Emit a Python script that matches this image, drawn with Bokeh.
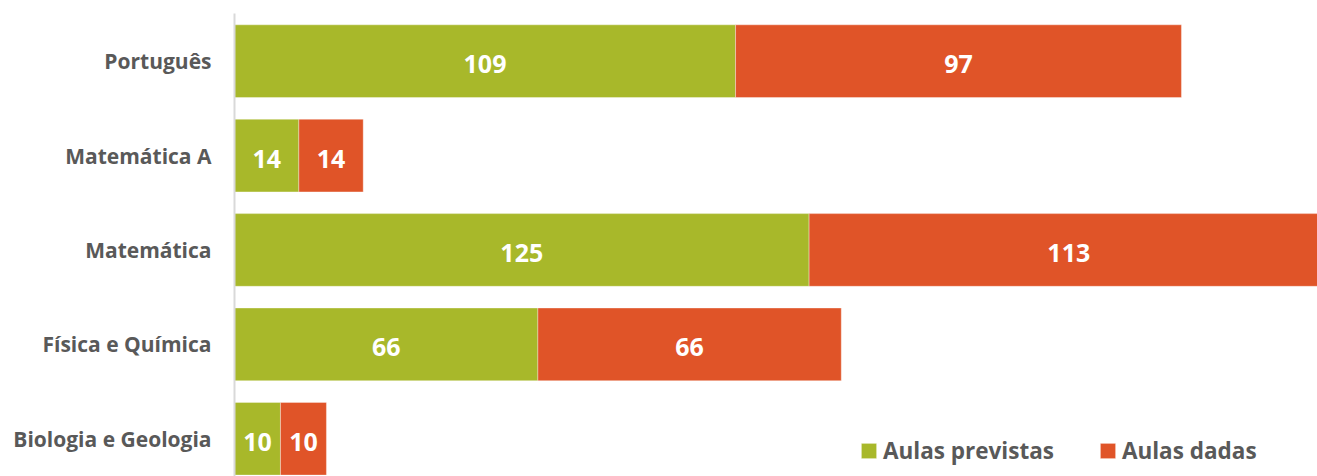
from bokeh.plotting import figure
from bokeh.models import ColumnDataSource, Range1d, Legend, LegendItem, LabelSet
from bokeh.core.properties import value
from bokeh.embed import file_html
from bokeh.resources import INLINE

categories = ["Português", "Matemática A", "Matemática", "Física e Química", "Biologia e Geologia"]
aulas_previstas = [109, 14, 125, 66, 10]
aulas_dadas = [97, 14, 113, 66, 10]
series_names = ["Aulas previstas", "Aulas dadas"]

GREEN = "#A8B82A"
RED = "#E05428"
GRAY = "#595959"
FONT = "Open Sans"

n = len(categories)
ypos = [n - 1 - i for i in range(n)]
prev_end = aulas_previstas
dadas_end = [a + b for a, b in zip(aulas_previstas, aulas_dadas)]

src = ColumnDataSource(dict(
    y=ypos,
    prev=aulas_previstas,
    dadas=aulas_dadas,
    prev_end=prev_end,
    dadas_end=dadas_end,
    prev_mid=[v / 2 for v in aulas_previstas],
    dadas_mid=[a + b / 2 for a, b in zip(aulas_previstas, aulas_dadas)],
    prev_lbl=[str(v) for v in aulas_previstas],
    dadas_lbl=[str(v) for v in aulas_dadas],
))

p = figure(width=1317, height=476, output_backend="svg", toolbar_location=None,
           x_range=Range1d(0, 235.6), y_range=Range1d(-0.40, n - 1 + 0.505),
           min_border_left=234, min_border_right=0, min_border_top=13, min_border_bottom=0)
p.outline_line_color = None
p.grid.visible = False
p.xaxis.visible = False
p.background_fill_color = "white"
p.border_fill_color = "white"

h = 0.77
r1 = p.hbar(y="y", left=0, right="prev_end", height=h, source=src,
            fill_color=GREEN, line_color="white", line_alpha=0.35, line_width=1)
r2 = p.hbar(y="y", left="prev_end", right="dadas_end", height=h, source=src,
            fill_color=RED, line_color="white", line_alpha=0.35, line_width=1)

for xcol, tcol in (("prev_mid", "prev_lbl"), ("dadas_mid", "dadas_lbl")):
    p.add_layout(LabelSet(x=xcol, y="y", text=tcol, source=src,
                          text_align="center", text_baseline="middle",
                          text_color="white", text_font=value(FONT), text_font_style="bold",
                          text_font_size="25px", y_offset=-3))

yax = p.yaxis[0]
yax.ticker = ypos
yax.major_label_overrides = {y: c for y, c in zip(ypos, categories)}
yax.major_tick_line_color = None
yax.minor_tick_line_color = None
yax.axis_line_color = "#D9D9D9"
yax.axis_line_width = 2
yax.major_label_standoff = 17
yax.major_label_text_font = FONT
yax.major_label_text_font_style = "bold"
yax.major_label_text_font_size = "21px"
yax.major_label_text_color = GRAY

legend = Legend(items=[LegendItem(label=series_names[0], renderers=[r1]),
                       LegendItem(label=series_names[1], renderers=[r2])],
                orientation="horizontal", location=(625, 10),
                glyph_width=19, glyph_height=19, label_standoff=5, spacing=44,
                padding=0, margin=0, border_line_color=None, background_fill_alpha=0,
                label_text_font=FONT, label_text_font_style="bold",
                label_text_font_size="22.5px", label_text_color=GRAY, label_height=15)
p.add_layout(legend)

open("out.html", "w").write(file_html(p, INLINE))
